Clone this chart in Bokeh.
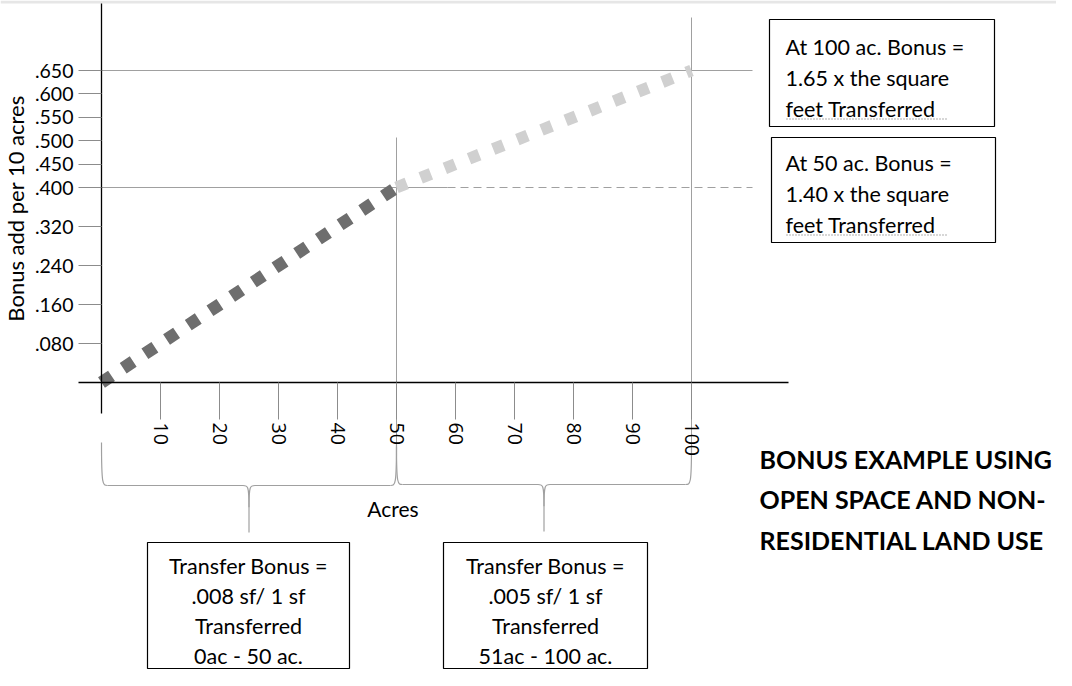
import numpy as np
from bokeh.plotting import figure
from bokeh.models import Range1d, LinearAxis, FixedTicker
from bokeh.core.properties import value
from bokeh.embed import file_html
from bokeh.resources import INLINE

# ---------------- data ----------------
acres = [0, 50, 100]
bonus = [0.000, 0.400, 0.650]
x_ticks = [10, 20, 30, 40, 50, 60, 70, 80, 90, 100]
y_tick_values = [0.080, 0.160, 0.240, 0.320, 0.400, 0.450, 0.500, 0.550, 0.600, 0.650]
y_tick_labels = [".080", ".160", ".240", ".320", ".400", ".450", ".500", ".550", ".600", ".650"]
y_title = "Bonus add per 10 acres"
x_title = "Acres"
note_100 = ["At 100 ac. Bonus =", "1.65 x the square", "feet  Transferred"]
note_50 = ["At 50 ac. Bonus =", "1.40 x the square", "feet  Transferred"]
band_low = ["Transfer Bonus =", ".008 sf/ 1 sf", "Transferred", "0ac - 50 ac."]
band_high = ["Transfer Bonus =", ".005 sf/ 1 sf", "Transferred", "51ac - 100 ac."]
title_lines = ["BONUS EXAMPLE USING", "OPEN SPACE AND NON-", "RESIDENTIAL LAND USE"]

# ---------------- layout helpers (canvas pixels -> data) ----------------
W, H = 1056, 670
X0_PX, PX_PER_ACRE = 101.0, 5.9
Y0_PX, PX_PER_UNIT = 382.0, 487.5


def ax(px):
    return (px - X0_PX) / PX_PER_ACRE


def ay(py):
    return (Y0_PX - py) / PX_PER_UNIT


def ypos(v):
    # the value axis is slightly compressed above .400
    return v if v <= 0.4 else 0.4 + (v - 0.4) * 0.96


FONT = value("Lato")
GRAY = "#a0a0a0"

p = figure(width=W, height=H,
           x_range=Range1d(ax(0), ax(W)),
           y_range=Range1d(ay(H), ay(0)),
           x_axis_type=None, y_axis_type=None,
           toolbar_location=None, output_backend="svg",
           min_border=0, outline_line_color=None,
           background_fill_color="white", border_fill_color="white")

# light band along the top edge
p.quad(left=[ax(0)], right=[ax(W)], top=[ay(0)], bottom=[ay(3)],
       fill_color="#e6e6e6", line_color=None)

# ---------------- axes ----------------
ytick_pos = [ypos(v) for v in y_tick_values]
yax = LinearAxis(fixed_location=0,
                 ticker=FixedTicker(ticks=ytick_pos),
                 major_label_overrides={t: l for t, l in zip(ytick_pos, y_tick_labels)},
                 bounds=(ay(413), ay(3)),
                 axis_line_color="black", axis_line_width=1.3,
                 major_tick_line_color="#8c8c8c", major_tick_line_width=1,
                 major_tick_out=23, major_tick_in=0,
                 minor_tick_out=0, minor_tick_in=0,
                 major_label_standoff=5,
                 major_label_text_font="Lato", major_label_text_font_size="19.5px",
                 major_label_text_color="black",
                 axis_label=y_title, axis_label_text_font="Lato",
                 axis_label_text_font_size="22px", axis_label_text_font_style="normal",
                 axis_label_text_color="black", axis_label_standoff=3)
p.add_layout(yax, "left")

xax = LinearAxis(fixed_location=0,
                 ticker=FixedTicker(ticks=x_ticks),
                 bounds=(ax(78), ax(788)),
                 axis_line_color="black", axis_line_width=1.3,
                 major_tick_line_color="#8c8c8c", major_tick_line_width=1,
                 major_tick_out=37, major_tick_in=0,
                 minor_tick_out=0, minor_tick_in=0,
                 major_label_orientation="vertical",
                 major_label_standoff=3,
                 major_label_text_font="Open Sans", major_label_text_font_size="19.5px",
                 major_label_text_color="black")
p.add_layout(xax, "below")

# ---------------- reference lines ----------------
y65 = ypos(bonus[2])
y40 = ypos(bonus[1])
p.segment(x0=[acres[0]], y0=[y65], x1=[ax(752)], y1=[y65], line_color=GRAY, line_width=1.2)
p.segment(x0=[acres[0]], y0=[y40], x1=[ax(447)], y1=[y40], line_color=GRAY, line_width=1.2)
p.segment(x0=[ax(447)], y0=[y40], x1=[ax(752)], y1=[y40], line_color=GRAY,
          line_width=1.2, line_dash="8 5")
p.segment(x0=[acres[1], acres[2]], y0=[ay(446), ay(446)],
          x1=[acres[1], acres[2]], y1=[ay(137), ay(17)],
          line_color=GRAY, line_width=1)

# ---------------- data line ----------------
p.line(acres[:2], [ypos(b) for b in bonus[:2]], line_color="#6e6e6e",
       line_width=12.5, line_dash="12 14", line_cap="butt")
p.line(acres[1:], [ypos(b) for b in bonus[1:]], line_color="#d0d0d0",
       line_width=12, line_dash="11 15", line_cap="butt")


# ---------------- braces ----------------
def brace(xl, xr, py_top, py_mid, py_tip):
    xc = (xl + xr) / 2
    dx = 6 / PX_PER_ACRE
    yt, ym, yb = ay(py_top), ay(py_mid), ay(py_tip)
    ybend = ay(py_mid + 22)
    p.bezier(x0=[xl, xr, xc - dx, xc + dx], y0=[yt, yt, ym, ym],
             x1=[xl + dx, xr - dx, xc, xc], y1=[ym, ym, ybend, ybend],
             cx0=[xl, xr, xc - dx * 0.2, xc + dx * 0.2], cy0=[ym, ym, ym, ym],
             cx1=[xl + dx * 0.2, xr - dx * 0.2, xc, xc], cy1=[ym, ym, ym, ym],
             line_color=GRAY, line_width=1.2)
    p.segment(x0=[xl + dx, xc + dx, xc], y0=[ym, ym, ybend],
              x1=[xc - dx, xr - dx, xc], y1=[ym, ym, yb],
              line_color=GRAY, line_width=1.2)


brace(acres[0], acres[1], 442, 485, 532)
brace(acres[1], acres[2], 446, 484, 531)

p.text(x=[(acres[0] + acres[2]) / 2 - 0.6], y=[ay(508)], text=[x_title],
       text_font=FONT, text_font_size="21px", text_align="center",
       text_baseline="middle", text_color="black")

# ---------------- note boxes ----------------
p.quad(left=[ax(769), ax(771), ax(147), ax(443)],
       right=[ax(994), ax(995), ax(349), ax(647)],
       top=[ay(19), ay(137), ay(542), ay(542)],
       bottom=[ay(126), ay(242), ay(668), ay(668)],
       fill_color="white", line_color="black", line_width=1.2)

NOTE_SIZE = "21.5px"
p.text(x=[ax(785)] * 3, y=[ay(46), ay(77), ay(108)], text=note_100,
       text_font=FONT, text_font_size=NOTE_SIZE, text_baseline="middle",
       text_align="left", text_color="black")
p.text(x=[ax(785)] * 3, y=[ay(162), ay(193), ay(224)], text=note_50,
       text_font=FONT, text_font_size=NOTE_SIZE, text_baseline="middle",
       text_align="left", text_color="black")
# dotted grammar underline
p.segment(x0=[ax(786), ax(786)], y0=[ay(118.5), ay(234.5)],
          x1=[ax(948), ax(948)], y1=[ay(118.5), ay(234.5)],
          line_color="#606060", line_width=1.2, line_dash="1 2")

band_y = [ay(565), ay(595), ay(625), ay(655)]
p.text(x=[ax(248)] * 4, y=band_y, text=band_low,
       text_font=FONT, text_font_size=NOTE_SIZE, text_baseline="middle",
       text_align="center", text_color="black")
p.text(x=[ax(545)] * 4, y=band_y, text=band_high,
       text_font=FONT, text_font_size=NOTE_SIZE, text_baseline="middle",
       text_align="center", text_color="black")

# ---------------- title ----------------
p.text(x=[ax(759)] * 3, y=[ay(458), ay(498), ay(539)], text=title_lines,
       text_font=FONT, text_font_size="25px", text_font_style="bold",
       text_baseline="middle", text_align="left", text_color="black")

open("out.html", "w").write(file_html(p, INLINE))
